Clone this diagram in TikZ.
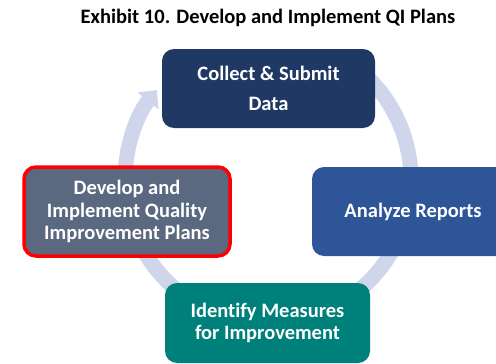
\documentclass[tikz,border=0pt]{standalone}
\usepackage{fontspec}
\setmainfont{Carlito}[Ligatures=CommonOff]
\usetikzlibrary{arrows.meta}
\definecolor{navybox}{RGB}{31,56,100}
\definecolor{bluebox}{RGB}{46,85,152}
\definecolor{tealbox}{RGB}{0,128,122}
\definecolor{slatebox}{RGB}{90,105,128}
\definecolor{ringcol}{RGB}{207,213,234}
\begin{document}
\begin{tikzpicture}[x=1pt,y=1pt,
  box/.style={rounded corners=12pt, inner sep=0pt, text=white, align=center,
    font=\bfseries\fontsize{20.5}{22.5}\selectfont},
  ring/.style={draw=ringcol, line width=15pt,
    -{Triangle[width=26pt,length=14pt]}}]
\useasboundingbox (0,0) rectangle (496,-364);
\clip (0,0) rectangle (496,-364);
% cycle arrow running clockwise behind the step boxes
\coordinate (hub) at (268,-180);
\draw[ring] ([shift={(60:143pt)}]hub) arc[start angle=60, end angle=-219, radius=143pt];
% title
\node[font=\bfseries\fontsize{20.5}{24}\selectfont] (title) at (268,-18)
  {Exhibit 10. Develop and Implement QI Plans};
% step boxes
\node[box, fill=navybox, minimum width=213pt, minimum height=79pt,
  font=\bfseries\fontsize{20.5}{30}\selectfont] (collect) at (268.5,-88.5)
  {Collect \& Submit\\Data};
\node[box, fill=bluebox, minimum width=202pt, minimum height=89pt] (analyze) at (413,-211.5)
  {Analyze Reports};
\node[box, fill=tealbox, minimum width=205pt, minimum height=80pt,
  font=\bfseries\fontsize{20.5}{22}\selectfont] (identify) at (267.5,-323)
  {Identify Measures\\for Improvement};
\node[box, fill=slatebox, draw=red, line width=3.5pt, minimum width=206pt, minimum height=89pt] (develop) at (127,-211.5)
  {Develop and\\Implement Quality\\Improvement Plans};
\end{tikzpicture}
\end{document}
